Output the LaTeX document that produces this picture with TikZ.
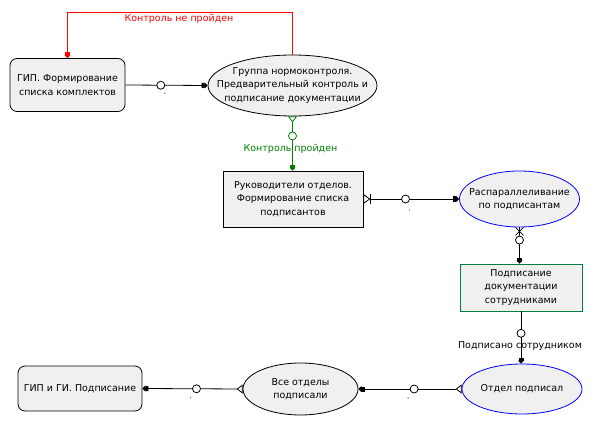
\documentclass[tikz,border=0pt]{standalone}
\usepackage{fontspec}
\setmainfont{DejaVu Sans}
\usetikzlibrary{arrows.meta,shapes.geometric}
\definecolor{nodefill}{HTML}{F0F0F0}
\definecolor{rectgreen}{HTML}{008040}
\definecolor{linegreen}{HTML}{008000}
\definecolor{lblgreen}{HTML}{008000}
\newcommand{\nf}{\fontsize{9.5}{13.4}\selectfont}
\begin{document}
\begin{tikzpicture}[x=1pt,y=-1pt,
  shp/.style={draw, fill=nodefill, inner sep=0pt, line width=0.8pt},
  rbox/.style={shp, rectangle, rounded corners=7pt},
  sbox/.style={shp, rectangle},
  ell/.style={shp, ellipse},
  txt/.style={align=center, font=\nf, text=black},
  circ/.style={circle, draw, fill=white, minimum size=8pt, inner sep=0pt, line width=0.8pt},
  conn/.style={line width=0.8pt, -{Square[length=3pt,width=5pt,sep=0pt]Triangle[length=3pt,width=6pt]}},
  otri/.style={{Triangle[open,reversed,length=6pt,width=9pt]}-{Square[length=3pt,width=5pt,sep=0pt]Triangle[length=3pt,width=6pt]}},
  clbl/.style={font=\nf},
  tick/.style={fill=black!70}
]
\useasboundingbox (0,0) rectangle (597,430);

% nodes
\node[rbox, minimum width=115pt, minimum height=53pt,
  label={[txt]center:{ГИП. Формирование\\списка комплектов}}] (n1) at (67.5,85) {};
\node[ell, minimum width=169pt, minimum height=61pt,
  label={[txt]center:{Группа нормоконтроля.\\Предварительный контроль и\\подписание документации}}] (n2) at (292.5,85.5) {};
\node[sbox, minimum width=140pt, minimum height=56pt,
  label={[txt]center:{Руководители отделов.\\Формирование списка\\подписантов}}] (n3) at (293,199) {};
\node[ell, draw=blue, minimum width=120pt, minimum height=56pt,
  label={[txt]center:{Распараллеливание\\по подписантам}}] (n4) at (519.5,199) {};
\node[sbox, draw=rectgreen, minimum width=122pt, minimum height=47pt,
  label={[txt]center:{Подписание\\документации\\сотрудниками}}] (n5) at (521,287.5) {};
\node[ell, draw=blue, minimum width=120pt, minimum height=50pt,
  label={[txt]center:{Отдел подписал}}] (n6) at (522,389) {};
\node[ell, minimum width=115pt, minimum height=52pt,
  label={[txt]center:{Все отделы\\подписали}}] (n7) at (300.5,389) {};
\node[rbox, minimum width=124pt, minimum height=45pt,
  label={[txt]center:{ГИП и ГИ. Подписание}}] (n8) at (80,388.5) {};

% red loop
\coordinate (tl) at (68,12);
\draw[conn, color=red] (n2.north) -- (n2.north |- tl) -| (n1.north);
\node[clbl, text=red] (lred) at (179,19) {Контроль не пройден};

% 1 -> 2
\draw[conn] (n1.east) -- node[pos=0.43, circ] (c1) {} (n2.west);
% 2 -> 3 (green)
\draw[otri, line width=0.8pt, color=linegreen] (n2.south) -- node[pos=0.36, circ] (c2) {} (n2.south |- n3.north);
\node[clbl, text=lblgreen] (lgreen) at (290.5,149) {Контроль пройден};
% 3 -> 4
\draw[line width=0.8pt, {Triangle[open,reversed,length=7pt,width=10pt]Bar[width=10pt]}-{Square[length=3pt,width=5pt,sep=0pt]Triangle[length=3pt,width=6pt]}]
  (n3.east) -- node[pos=0.44, circ] (c3) {} (n4.west);
% 4 -> 5
\draw[conn] (n4.south) -- node[pos=0.35, circ] (c4) {} (n4.south |- n5.north);
\draw[line width=0.8pt] ([shift={(-4,0)}]n4.south) -- ([shift={(4,8)}]n4.south);
\draw[line width=0.8pt] ([shift={(4,0)}]n4.south) -- ([shift={(-4,8)}]n4.south);
% 5 -> 6
\draw[conn] (n5.south) -- node[pos=0.42, circ] (c5) {} (n5.south |- n6.north);
\node[clbl] (lsig) at (520,346) {Подписано сотрудником};
% 6 -> 7
\draw[otri, line width=0.8pt] (n6.west) -- node[pos=0.46, circ] (c6) {} (n7.east);
% 7 -> 8
\draw[otri, line width=0.8pt] (n7.west) -- node[pos=0.46, circ] (c7) {} (n8.east);

% small marks
\fill[tick] ([shift={(4,8)}]c1) circle (0.7);
\fill[tick] ([shift={(4,11)}]c3) circle (0.7);
\fill[tick] ([shift={(-6,9)}]c6) circle (0.7);
\fill[tick] ([shift={(-6,9)}]c7) circle (0.7);
\end{tikzpicture}
\end{document}
